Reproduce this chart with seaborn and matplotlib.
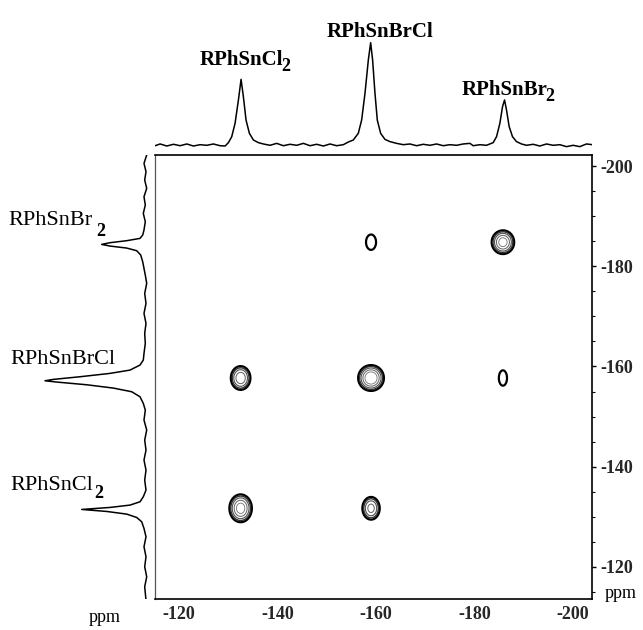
import numpy as np
import pandas as pd
import matplotlib
matplotlib.use("Agg")
import matplotlib.pyplot as plt
import seaborn as sns
from matplotlib.ticker import MultipleLocator
from matplotlib.transforms import IdentityTransform

# ---------------- data ----------------
species_main = ["RPhSnCl", "RPhSnBrCl", "RPhSnBr"]
species_sub = ["2", "", "2"]

# cross-peak centres (ppm): horizontal (F2) and vertical (F1) dimension
shift_f2 = [-132.5, -159.0, -185.8]
shift_f1 = [-131.7, -157.7, -184.8]
# cross-peak amplitude, rows = F1 (Cl2, BrCl, Br2), cols = F2 (Cl2, BrCl, Br2)
cross_amp = [[0.80, 0.50, 0.00],
             [0.60, 1.00, 0.15],
             [0.00, 0.16, 0.80]]
cross_wx = [[1.12, 0.98, 1.00],
            [1.05, 1.22, 0.92],
            [1.00, 1.05, 1.12]]
cross_wy = [[1.36, 1.26, 1.00],
            [1.25, 1.20, 1.70],
            [1.00, 1.58, 1.16]]
contour_levels = [0.10, 0.16, 0.25, 0.40, 0.60]

# top (F2) projection trace
top_ppm = [-115.13, -116.14, -117.50, -118.85, -120.20, -121.56, -122.91, -124.26,
           -125.62, -126.97, -128.32, -129.34, -130.02, -130.69, -131.37, -132.05,
           -132.59, -133.06, -133.60, -134.28, -135.09, -136.11, -137.12, -138.48,
           -139.83, -141.18, -142.54, -143.89, -145.25, -146.60, -147.95, -149.31,
           -150.66, -152.01, -153.37, -154.38, -155.40, -156.41, -157.09, -157.77,
           -158.45, -158.92, -159.32, -159.80, -160.27, -160.95, -161.83, -162.84,
           -164.20, -165.55, -166.90, -168.26, -169.61, -170.96, -172.32, -173.67,
           -175.03, -176.38, -177.73, -179.09, -179.76, -181.12, -182.47, -183.82,
           -184.50, -185.18, -185.72, -186.13, -186.53, -187.07, -187.75, -188.56,
           -189.58, -190.59, -191.95, -193.30, -194.65, -196.01, -197.36, -198.71,
           -200.07, -201.42, -202.77, -203.99]
top_int = [-0.007, 0.010, -0.010, 0.007, -0.007, 0.010, -0.010, 0.003,
           -0.003, 0.010, -0.007, -0.010, 0.023, 0.081, 0.212, 0.440,
           0.642, 0.472, 0.244, 0.114, 0.049, 0.023, 0.010, -0.003,
           0.016, -0.007, 0.007, -0.003, 0.016, -0.007, 0.007, -0.010,
           0.010, -0.007, 0.003, 0.029, 0.049, 0.114, 0.244, 0.505,
           0.831, 1.000, 0.831, 0.505, 0.244, 0.114, 0.055, 0.033,
           0.016, 0.003, 0.010, -0.007, 0.007, -0.003, 0.010, -0.007,
           0.003, -0.003, 0.010, 0.016, -0.007, 0.003, -0.003, 0.023,
           0.081, 0.212, 0.375, 0.440, 0.342, 0.179, 0.081, 0.033,
           0.010, -0.003, 0.007, -0.010, 0.010, -0.003, 0.003, -0.016,
           -0.003, -0.016, 0.010, 0.003]

# left (F1) projection trace
left_ppm = [-202.20, -200.53, -198.87, -197.21, -195.54, -193.88, -192.22, -190.55,
            -188.89, -187.23, -186.23, -185.56, -185.10, -184.70, -184.36, -184.03,
            -183.63, -183.10, -182.24, -180.90, -179.57, -178.24, -176.58, -174.58,
            -172.59, -170.59, -168.60, -166.60, -164.60, -162.61, -161.28, -160.28,
            -159.28, -158.62, -157.95, -157.42, -157.15, -156.89, -156.35, -155.69,
            -154.96, -153.96, -152.63, -151.30, -149.30, -147.31, -145.31, -143.31,
            -141.32, -139.32, -137.33, -135.33, -134.00, -133.00, -132.34, -131.87,
            -131.47, -131.07, -130.54, -129.87, -129.01, -127.68, -126.01, -124.02,
            -122.02, -120.03, -118.03, -116.03, -113.37]
left_int = [-0.017, 0.010, -0.010, 0.003, -0.017, 0.010, -0.003, 0.017,
            -0.003, 0.010, 0.023, 0.050, 0.183, 0.350, 0.433, 0.350,
            0.183, 0.083, 0.043, 0.023, 0.010, -0.003, -0.017, 0.003,
            -0.010, 0.010, -0.010, 0.003, -0.003, 0.010, 0.017, 0.050,
            0.150, 0.350, 0.650, 0.917, 1.000, 0.883, 0.583, 0.317,
            0.133, 0.050, 0.017, -0.003, 0.010, -0.017, 0.003, -0.010,
            0.010, -0.010, 0.003, -0.010, 0.017, 0.050, 0.150, 0.350,
            0.633, 0.383, 0.183, 0.083, 0.033, 0.010, -0.010, 0.010,
            -0.010, 0.003, -0.017, 0.003, -0.010]

x_ticks = [-120, -140, -160, -180, -200]
y_ticks = [-200, -180, -160, -140, -120]

# ---------------- style ----------------
sns.set_theme(style="white")
plt.rcParams["font.family"] = ["Liberation Serif", "DejaVu Serif"]
plt.rcParams["axes.unicode_minus"] = False

W, H = 643, 630
fig = plt.figure(figsize=(W / 100, H / 100), dpi=100)
renderer = fig.canvas.get_renderer()


def box(l, t, r, b):
    return [l / W, 1 - b / H, (r - l) / W, (b - t) / H]


def sub_label(x, y_top_px, main, sub, fs, sub_fs, weight, sub_weight, drop, gap, ha):
    """Text with a large, lowered subscript; x / y in image pixels (y from top)."""
    yb = H - y_top_px
    t1 = fig.text(0, 0, main, fontsize=fs, fontweight=weight, color="black",
                  ha="left", va="baseline", transform=IdentityTransform())
    w1 = t1.get_window_extent(renderer).width
    w2 = 0.0
    t2 = None
    if sub:
        t2 = fig.text(0, 0, sub, fontsize=sub_fs, fontweight=sub_weight, color="black",
                      ha="left", va="baseline", transform=IdentityTransform())
        w2 = t2.get_window_extent(renderer).width + gap
    x0 = x - (w1 + w2) / 2 if ha == "center" else x
    t1.set_position((x0, yb))
    if t2 is not None:
        t2.set_position((x0 + w1 + gap, yb - drop))


XLIM = (-115.1, -203.9)
YLIM = (-113.6, -202.2)

# ---------------- main contour panel ----------------
ax = fig.add_axes(box(155, 155, 592, 599))
gx = np.linspace(-205, -114, 911)
gy = np.linspace(-204, -112, 921)
GX, GY = np.meshgrid(gx, gy)
Z = np.zeros_like(GX)
for i, yc in enumerate(shift_f1):
    for j, xc in enumerate(shift_f2):
        a = cross_amp[i][j]
        if a <= 0:
            continue
        Z += a * np.exp(-((GX - xc) ** 2 / (2 * cross_wx[i][j] ** 2)
                          + (GY - yc) ** 2 / (2 * cross_wy[i][j] ** 2)))
ax.contour(GX, GY, Z, levels=contour_levels,
           colors=["black", "#303030", "#505050", "#606060", "#707070"],
           linewidths=[1.6, 1.0, 0.8, 0.7, 0.6])
ax.set_xlim(*XLIM)
ax.set_ylim(*YLIM)
ax.set_xticks(x_ticks)
ax.set_yticks(y_ticks)
ax.xaxis.set_minor_locator(MultipleLocator(5))
ax.yaxis.set_minor_locator(MultipleLocator(5))
ax.yaxis.tick_right()
ax.tick_params(axis="x", which="major", direction="in", length=4, width=1,
               color="black", pad=5, labelsize=13)
ax.tick_params(axis="x", which="minor", direction="in", length=2, width=0.8, color="black")
ax.tick_params(axis="y", which="major", direction="out", length=3, width=1,
               color="black", pad=3, labelsize=13, left=False, right=True)
ax.tick_params(axis="y", which="minor", direction="out", length=2, width=0.8,
               color="black", left=False, right=True)
for lab in ax.get_xticklabels() + ax.get_yticklabels():
    lab.set_fontweight("bold")
for s in ax.spines.values():
    s.set_visible(True)
    s.set_color("black")
    s.set_linewidth(1.2)
ax.spines["left"].set_color("#555555")
ax.spines["left"].set_linewidth(0.9)
ax.set_xlabel("")
ax.set_ylabel("")
ax.grid(False)

# ---------------- top projection ----------------
axt = fig.add_axes(box(155, 40, 592, 150))
top_df = pd.DataFrame({"ppm": top_ppm, "intensity": top_int})
sns.lineplot(data=top_df, x="ppm", y="intensity", sort=False, estimator=None,
             color="black", linewidth=1.1, ax=axt)
axt.set_xlim(*XLIM)
axt.set_ylim(-0.0489, 1.0264)
axt.axis("off")

top_label_px = [(245, 65), (380, 37), (508, 95)]
for m, s, (px, py) in zip(species_main, species_sub, top_label_px):
    sub_label(px, py, m, s, fs=15, sub_fs=13, weight="bold", sub_weight="bold",
              drop=6, gap=-1.5, ha="center")

# ---------------- left projection ----------------
axl = fig.add_axes(box(35, 155, 150, 599))
left_df = pd.DataFrame({"ppm": left_ppm, "intensity": left_int})
sns.lineplot(data=left_df, x="intensity", y="ppm", sort=False, estimator=None,
             color="black", linewidth=1.1, ax=axl)
axl.set_ylim(*YLIM)
axl.set_xlim(1.10, -0.05)
axl.axis("off")

left_label_px = [(8, 225, 11, 4), (10, 364, 0, 0), (10, 490, 8, 1)]
for m, s, (px, py, dr, gp) in zip(species_main[::-1], species_sub[::-1], left_label_px):
    sub_label(px, py, m, s, fs=16, sub_fs=13, weight="normal", sub_weight="bold",
              drop=dr, gap=gp, ha="left")

# ppm unit labels
fig.text(105 / W, 1 - 617 / H, "ppm", ha="center", va="center", fontsize=13, color="black")
fig.text(621 / W, 1 - 594 / H, "ppm", ha="center", va="center", fontsize=13, color="black")

fig.savefig("out.png", dpi=100)
